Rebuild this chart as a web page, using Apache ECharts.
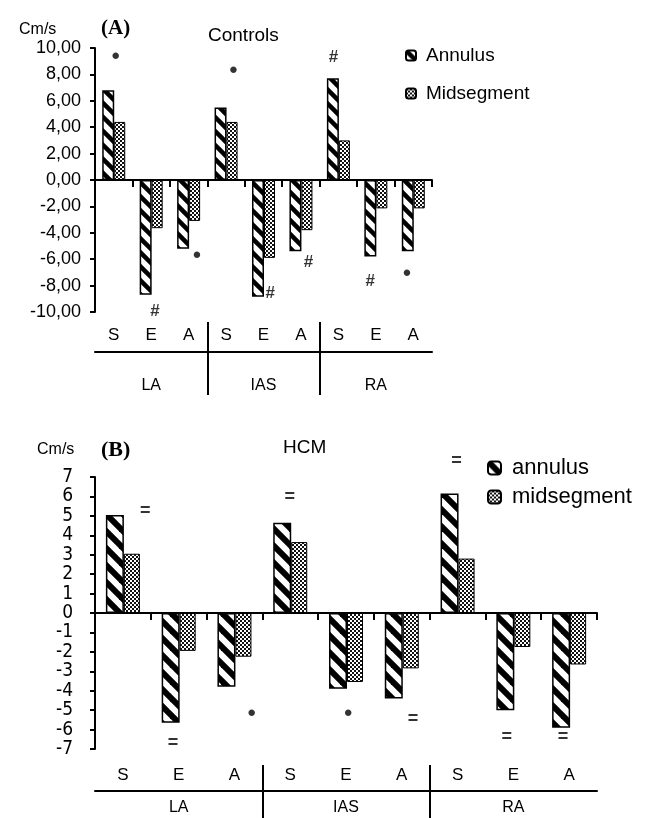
<!DOCTYPE html>
<html><head><meta charset="utf-8">
<script src="https://cdn.jsdelivr.net/npm/echarts@6/dist/echarts.min.js"></script>
<style>html,body{margin:0;padding:0;background:#fff}#c{width:656px;height:818px}</style>
</head><body><div id="c"></div>
<script>
// ---------- data ----------
const subCategories = ['S','E','A','S','E','A','S','E','A'];
const groups = ['LA','IAS','RA'];
const annulusA = [6.8, -8.7, -5.2, 5.5, -8.85, -5.4, 7.7, -5.8, -5.4];
const midsegA  = [4.4, -3.65, -3.1, 4.4, -5.9, -3.8, 3.0, -2.15, -2.15];
const annulusB = [5.05, -5.65, -3.8, 4.65, -3.9, -4.4, 6.15, -5.0, -5.9];
const midsegB  = [3.05, -1.95, -2.25, 3.65, -3.55, -2.85, 2.8, -1.75, -2.65];
// significance marks: [position along categories, value, symbol]
const marksA = [[0.55,9.3,'•'],[1.6,-9.95,'#'],[2.72,-5.8,'•'],[3.7,8.2,'•'],[4.68,-8.6,'#'],[5.7,-6.2,'#'],[6.37,9.3,'#'],[7.35,-7.7,'#'],[8.33,-7.15,'•']];
const marksB = [[0.9,5.25,'='],[1.4,-6.7,'='],[2.81,-5.2,'•'],[3.49,5.95,'='],[4.54,-5.2,'•'],[5.7,-5.45,'='],[6.48,7.8,'='],[7.38,-6.4,'='],[8.39,-6.4,'=']];
const yTicksA = ['-10,00','-8,00','-6,00','-4,00','-2,00','0,00','2,00','4,00','6,00','8,00','10,00'];
const yTicksB = ['-7','-6','-5','-4','-3','-2','-1','0','1','2','3','4','5','6','7'];

// ---------- patterns ----------
function stripes(P, w) {
  const c = document.createElement('canvas'); c.width = P; c.height = P;
  const g = c.getContext('2d');
  g.fillStyle = '#fff'; g.fillRect(0, 0, P, P);
  g.strokeStyle = '#000'; g.lineWidth = w;
  [-P, 0, P].forEach(k => { g.beginPath(); g.moveTo(k - P, -P); g.lineTo(k + 2 * P, 2 * P); g.stroke(); });
  return { image: c, repeat: 'repeat' };
}
function checker() {
  const c = document.createElement('canvas'); c.width = 4; c.height = 4;
  const g = c.getContext('2d');
  g.fillStyle = '#fff'; g.fillRect(0, 0, 4, 4);
  g.fillStyle = '#111'; g.fillRect(0, 0, 2, 2); g.fillRect(2, 2, 2, 2);
  return { image: c, repeat: 'repeat' };
}
const hatchA = stripes(14, 4.5), hatchB = stripes(17, 6), dots = checker();

const FONT = 'Liberation Sans, Arial, sans-serif';
const black = { color: '#000', width: 2 };
const centers = subCategories.map((_, i) => i + 0.5);
const groupCenters = groups.map((_, i) => i * 3 + 1.5);
const markRich = {
  d: { fontSize: 24, color: '#000', fontFamily: FONT },
  h: { fontSize: 17, fontWeight: 'bold', color: '#000', fontFamily: FONT },
  e: { fontSize: 18, fontWeight: 'bold', color: '#000', fontFamily: FONT }
};
const markFmt = p => { const s = p.data[2]; return s === '•' ? '{d|•}' : s === '#' ? '{h|#}' : '{e|=}'; };

function panelAxes(gi, cfg) {
  return [
    { type: 'category', gridIndex: gi, data: subCategories,
      axisLine: { lineStyle: black }, axisLabel: { show: false },
      axisTick: { show: true, length: 7, lineStyle: black } },
    { type: 'value', gridIndex: gi, min: 0, max: 9, position: 'bottom', offset: cfg.offset,
      axisLine: { show: true, onZero: false, lineStyle: black },
      splitLine: { show: false },
      axisTick: { show: true, inside: true, length: cfg.sepUp, customValues: [3, 6], lineStyle: black },
      axisLabel: { show: true, inside: true, margin: cfg.subMargin, customValues: centers,
        formatter: v => subCategories[Math.floor(v)], fontSize: 17, color: '#000', fontFamily: FONT } },
    { type: 'value', gridIndex: gi, min: 0, max: 9, position: 'bottom', offset: cfg.offset,
      axisLine: { show: false, onZero: false },
      splitLine: { show: false },
      axisTick: { show: true, inside: false, length: cfg.sepDown, customValues: [3, 6], lineStyle: black },
      axisLabel: { show: true, margin: cfg.grpMargin, customValues: groupCenters,
        formatter: v => groups[Math.floor(v / 3)], fontSize: 16, color: '#000', fontFamily: FONT } }
  ];
}

const option = {
  animation: false,
  backgroundColor: '#fff',
  title: [
    { text: 'Cm/s', left: 14, top: 17, textStyle: { fontSize: 16, fontWeight: 'normal', color: '#000', fontFamily: FONT } },
    { text: '(A)', left: 96, top: 13, textStyle: { fontSize: 21, fontWeight: 'bold', color: '#000', fontFamily: 'Liberation Serif, Times New Roman, serif' } },
    { text: 'Controls', left: 203, top: 21, textStyle: { fontSize: 19, fontWeight: 'normal', color: '#000', fontFamily: FONT } },
    { text: 'Cm/s', left: 32, top: 437, textStyle: { fontSize: 16, fontWeight: 'normal', color: '#000', fontFamily: FONT } },
    { text: '(B)', left: 96, top: 434, textStyle: { fontSize: 22, fontWeight: 'bold', color: '#000', fontFamily: 'Liberation Serif, Times New Roman, serif' } },
    { text: 'HCM', left: 278, top: 433, textStyle: { fontSize: 19, fontWeight: 'normal', color: '#000', fontFamily: FONT } }
  ],
  legend: [
    { orient: 'vertical', left: 400, top: 41, itemWidth: 10, itemHeight: 10, itemGap: 19,
      data: ['Annulus', 'Midsegment'], selectedMode: false,
      textStyle: { fontSize: 19, color: '#000', fontFamily: FONT, padding: [0, 0, 0, 5] } },
    { orient: 'vertical', left: 482, top: 452, itemWidth: 13, itemHeight: 13, itemGap: 7,
      data: ['annulus', 'midsegment'], selectedMode: false,
      textStyle: { fontSize: 22, color: '#000', fontFamily: FONT, padding: [0, 0, 0, 6] } }
  ],
  grid: [
    { left: 95, top: 48, width: 337, height: 264 },
    { left: 95, top: 477, width: 502, height: 272 }
  ],
  xAxis: [
    ...panelAxes(0, { offset: 40, sepUp: 30, sepDown: 43, subMargin: 8, grpMargin: 26 }),
    ...panelAxes(1, { offset: 42, sepUp: 26, sepDown: 30, subMargin: 7, grpMargin: 9 })
  ],
  yAxis: [
    { type: 'value', gridIndex: 0, min: -10, max: 10, interval: 2,
      axisLine: { show: true, lineStyle: black }, splitLine: { show: false },
      axisTick: { show: true, length: 5, lineStyle: black },
      axisLabel: { margin: 14, fontSize: 18, color: '#000', fontFamily: FONT,
        showMinLabel: true, showMaxLabel: true,
        formatter: v => yTicksA[Math.round((v + 10) / 2)] } },
    { type: 'value', gridIndex: 1, min: -7, max: 7, interval: 1,
      axisLine: { show: true, lineStyle: black }, splitLine: { show: false },
      axisTick: { show: true, length: 5, lineStyle: black },
      axisLabel: { margin: 22, fontSize: 19, lineHeight: 14, color: '#000',
        showMinLabel: true, showMaxLabel: true, hideOverlap: false,
        fontFamily: 'Liberation Sans Narrow, DejaVu Sans Condensed, Arial, sans-serif',
        formatter: v => yTicksB[Math.round(v + 7)] } }
  ],
  series: [
    { name: 'Annulus', type: 'bar', xAxisIndex: 0, yAxisIndex: 0, data: annulusA,
      barWidth: 12, barGap: '0%', itemStyle: { color: hatchA, borderColor: '#000', borderWidth: 1.5 } },
    { name: 'Midsegment', type: 'bar', xAxisIndex: 0, yAxisIndex: 0, data: midsegA,
      barWidth: 11, barGap: '0%', itemStyle: { color: dots, borderColor: '#000', borderWidth: 1 } },
    { name: 'annulus', type: 'bar', xAxisIndex: 3, yAxisIndex: 1, data: annulusB,
      barWidth: 18, barGap: '0%', itemStyle: { color: hatchB, borderColor: '#000', borderWidth: 1.5 } },
    { name: 'midsegment', type: 'bar', xAxisIndex: 3, yAxisIndex: 1, data: midsegB,
      barWidth: 16, barGap: '0%', itemStyle: { color: dots, borderColor: '#000', borderWidth: 1 } },
    { type: 'scatter', xAxisIndex: 1, yAxisIndex: 0, data: marksA, clip: false, silent: true,
      symbolSize: 1, itemStyle: { color: 'rgba(0,0,0,0)' },
      label: { show: true, position: 'inside', formatter: markFmt, rich: markRich } },
    { type: 'scatter', xAxisIndex: 4, yAxisIndex: 1, data: marksB, clip: false, silent: true,
      symbolSize: 1, itemStyle: { color: 'rgba(0,0,0,0)' },
      label: { show: true, position: 'inside', formatter: markFmt, rich: markRich } }
  ]
};
const chart = echarts.init(document.getElementById('c'), null, { renderer: 'canvas' });
chart.setOption(option);
</script>
</body></html>
